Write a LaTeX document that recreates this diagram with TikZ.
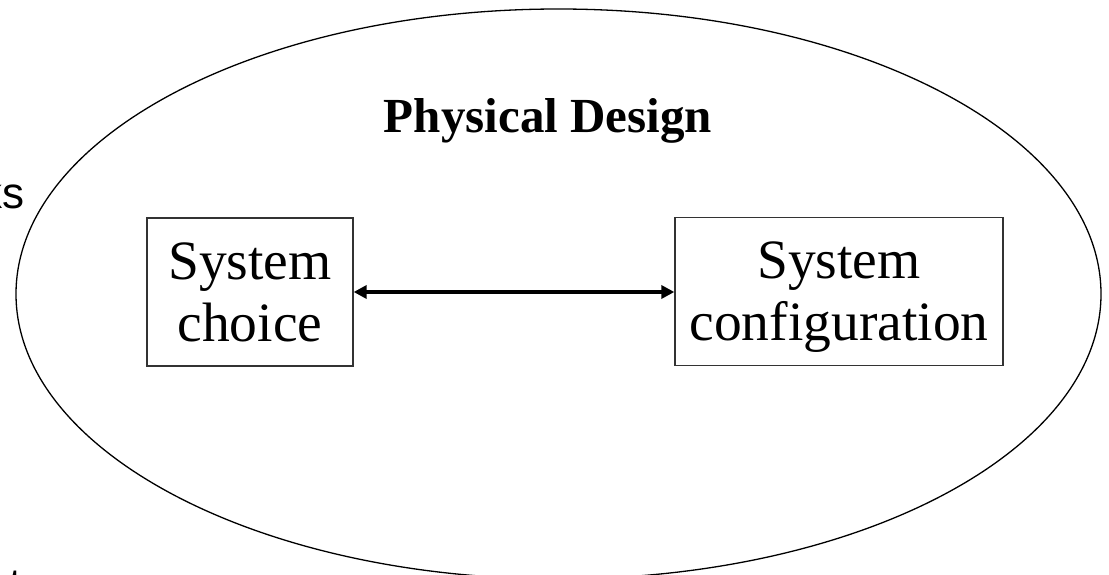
\documentclass[tikz,border=0pt]{standalone}
\usepackage{fontspec}
\setmainfont{Liberation Serif}
\newfontfamily\arialfont{Liberation Sans}
\usetikzlibrary{arrows.meta}
\tikzset{
  sysbox/.style={draw=black!80, line width=1.3pt, minimum width=206pt, minimum height=148pt,
    inner sep=0pt, align=center, text depth=0pt, font=\fontsize{55.5}{62}\selectfont},
  outer/.style={draw=black, line width=1.3pt},
  cutlabel/.style={font=\arialfont\fontsize{44}{50}\selectfont, inner sep=0pt},
  link/.style={line width=3.8pt, {Triangle[length=13pt,width=13pt]}-{Triangle[length=13pt,width=13pt]}}
}
\begin{document}
\begin{tikzpicture}[x=1pt,y=-1pt]
\useasboundingbox (0,0) rectangle (1109,575);
\clip (0,0) rectangle (1109,575);
\draw[outer] (558.5,294) ellipse [x radius=542.5, y radius=285];
\node[cutlabel, anchor=base east] (ks) at (25,208) {ks};
\node[cutlabel, anchor=base west] (tt) at (9,599) {t};
\node[font=\bfseries\fontsize{49}{56}\selectfont, inner sep=0pt, anchor=base] (title) at (548,133) {Physical Design};
\node[sysbox] (choice) at (250,292) {System\\choice};
\node[sysbox, minimum width=328pt] (config) at (839,291.5) {System\\configuration};
\draw[link] (choice.east) -- (choice.east -| config.west);
\end{tikzpicture}
\end{document}
